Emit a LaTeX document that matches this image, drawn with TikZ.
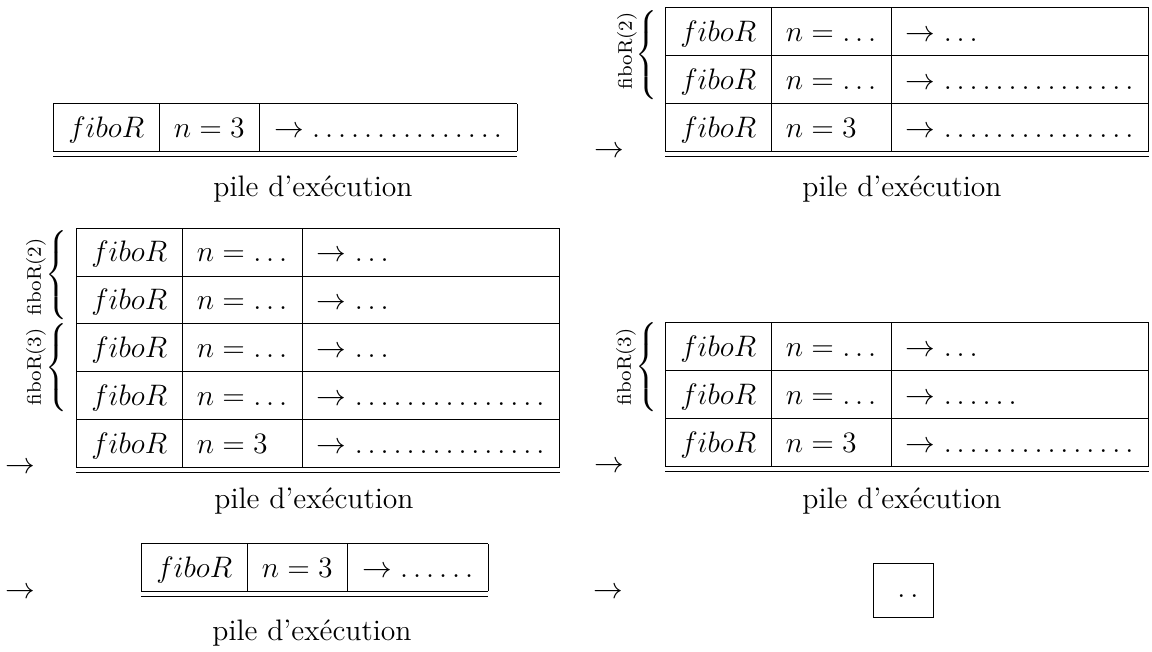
\documentclass[12pt,tikz,border=0pt]{standalone}
\usepackage{tikz}
\renewcommand{\arraystretch}{1.31}

\begin{document}
\begin{tikzpicture}[x=0.405pt,y=-0.405pt,
  pile/.style={anchor=south west},
  fleche/.style={anchor=base},
  legende/.style={anchor=base},
  accolade/.style={anchor=center},
  appel/.style={rotate=90,font=\scriptsize}]
\tikzstyle{every node}+=[inner sep=0pt]
\useasboundingbox (0,0) rectangle (1152,652);
% premier appel : fiboR(3) seul
\node [pile] (pile1) at (53,157.5) {\begin{tabular}{|l|l|l|}\hline
$fiboR$ & $n=3$ & $\rightarrow\ldots\ldots\ldots\ldots\ldots$\\ \hline\hline
\end{tabular}};
\draw (313,197) node [legende] (leg1) {pile d'exécution};
% appel de fiboR(2)
\draw (609,157.5) node [fleche] (fl1) {$\rightarrow$};
\node [pile] (pile2) at (665,157.5) {\begin{tabular}{|l|l|l|}\hline
$fiboR$ & $n=\ldots$ & $\rightarrow\ldots$\\ \hline
$fiboR$ & $n=\ldots$ & $\rightarrow\ldots\ldots\ldots\ldots\ldots$\\ \hline
$fiboR$ & $n=3$ & $\rightarrow\ldots\ldots\ldots\ldots\ldots$\\ \hline\hline
\end{tabular}};
\draw (648,55) node [accolade] (acc1) {$\left\{\vcenter{\hbox{\rule{0pt}{35pt}}}\right.$};
\draw (627,51) node [appel] (app1) {fiboR(2)};
\draw (902,197) node [legende] (leg2) {pile d'exécution};
% cinq blocs empiles
\draw (20,473.5) node [fleche] (fl2) {$\rightarrow$};
\node [pile] (pile3) at (76,473.5) {\begin{tabular}{|l|l|l|}\hline
$fiboR$ & $n=\ldots$ & $\rightarrow\ldots$\\ \hline
$fiboR$ & $n=\ldots$ & $\rightarrow\ldots$\\ \hline
$fiboR$ & $n=\ldots$ & $\rightarrow\ldots$\\ \hline
$fiboR$ & $n=\ldots$ & $\rightarrow\ldots\ldots\ldots\ldots\ldots$\\ \hline
$fiboR$ & $n=3$ & $\rightarrow\ldots\ldots\ldots\ldots\ldots$\\ \hline\hline
\end{tabular}};
\draw (58,275) node [accolade] (acc2) {$\left\{\vcenter{\hbox{\rule{0pt}{35pt}}}\right.$};
\draw (36,277) node [appel] (app2) {fiboR(2)};
\draw (58,367.5) node [accolade] (acc3) {$\left\{\vcenter{\hbox{\rule{0pt}{35pt}}}\right.$};
\draw (36,367) node [appel] (app3) {fiboR(3)};
\draw (314,509) node [legende] (leg3) {pile d'exécution};
% retour de fiboR(2)
\draw (609,472.5) node [fleche] (fl3) {$\rightarrow$};
\node [pile] (pile4) at (665,472.5) {\begin{tabular}{|l|l|l|}\hline
$fiboR$ & $n=\ldots$ & $\rightarrow\ldots$\\ \hline
$fiboR$ & $n=\ldots$ & $\rightarrow\ldots\ldots$\\ \hline
$fiboR$ & $n=3$ & $\rightarrow\ldots\ldots\ldots\ldots\ldots$\\ \hline\hline
\end{tabular}};
\draw (648,367) node [accolade] (acc4) {$\left\{\vcenter{\hbox{\rule{0pt}{35pt}}}\right.$};
\draw (626,367) node [appel] (app4) {fiboR(3)};
\draw (902,509) node [legende] (leg4) {pile d'exécution};
% retour de fiboR(1)
\draw (20,599) node [fleche] (fl4) {$\rightarrow$};
\node [pile] (pile5) at (141,597.5) {\begin{tabular}{|l|l|l|}\hline
$fiboR$ & $n=3$ & $\rightarrow\ldots\ldots$\\ \hline\hline
\end{tabular}};
\draw (312,641) node [legende] (leg5) {pile d'exécution};
% pile vide
\draw (608,599) node [fleche] (fl5) {$\rightarrow$};
\draw [black] (873,563) rectangle (933,617);
\draw (908,598) node [legende] (vide) {$\ldotp\ldotp$};
\end{tikzpicture}
\end{document}
